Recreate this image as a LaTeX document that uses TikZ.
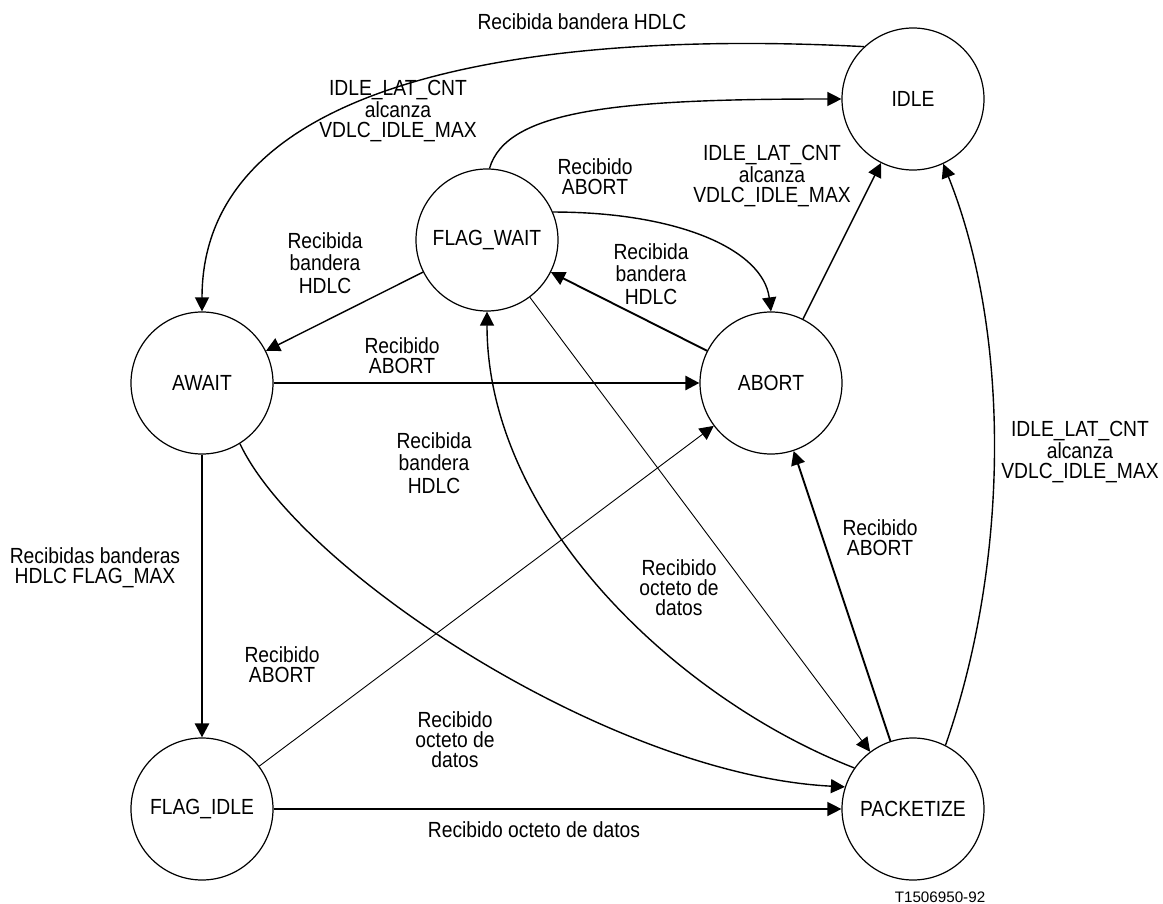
\documentclass[tikz,border=0pt]{standalone}
\usepackage{fontspec}
\setmainfont{Liberation Sans}[FakeStretch=0.88]
\newfontfamily\codefont{Liberation Sans}
\usetikzlibrary{arrows.meta}

\begin{document}
\begin{tikzpicture}[x=0.5pt, y=-0.5pt,
  state/.style={draw, circle, line width=0.6pt, minimum size=71pt, inner sep=0pt,
    font=\fontsize{10.95pt}{12pt}\selectfont},
  lbl/.style={align=center, inner sep=0pt, font=\fontsize{10.95pt}{10pt}\selectfont},
  lblwide/.style={align=center, inner sep=0pt, font=\fontsize{10.95pt}{11.25pt}\selectfont},
  tr/.style={-{Triangle[length=7pt,width=7pt]}},
  thinline/.style={tr, line width=0.45pt},
  midline/.style={tr, line width=0.7pt},
  boldline/.style={tr, line width=0.95pt},
  heavyline/.style={tr, line width=1.3pt},
]
\fill[white] (0,0) rectangle (1163,904);
\useasboundingbox (0,0) rectangle (1163,904);

% states
\node[state] (IDLE)      at (913,99)  {IDLE};
\node[state] (FLAGWAIT)  at (487,240) {FLAG\_WAIT};
\node[state] (AWAIT)     at (202,383) {AWAIT};
\node[state] (ABORT)     at (771,383) {ABORT};
\node[state] (FLAGIDLE)  at (202,809) {FLAG\_IDLE};
\node[state] (PACKETIZE) at (913,809) {PACKETIZE};

% transitions
\draw[midline] (IDLE.133) .. controls +(-306,-16) and +(0,-242) .. (AWAIT.north);
\draw[midline] (FLAGWAIT.88) .. controls +(17,-59) and +(-222,0) .. (IDLE.west);
\draw[midline] (FLAGWAIT.23) .. controls +(125,0) and +(-8,-62) .. (ABORT.north);
\draw[boldline] (ABORT) -- (FLAGWAIT);
\draw[midline] (ABORT) -- (IDLE);
\draw[midline] (FLAGWAIT) -- (AWAIT);
\draw[heavyline] (AWAIT) -- (ABORT);
\draw[heavyline] (AWAIT) -- (FLAGIDLE);
\draw[midline] (FLAGIDLE) -- (PACKETIZE);
\draw[thinline] (FLAGIDLE) -- (ABORT);
\draw[thinline] (FLAGWAIT) -- (PACKETIZE);
\draw[boldline] (PACKETIZE) -- (ABORT);
\draw[midline] (PACKETIZE.63) .. controls +(65,-186) and +(67,167) .. (IDLE.-65);
\draw[midline] (PACKETIZE.145) .. controls +(-175,-68) and +(0,209) .. (FLAGWAIT.south);
\draw[midline] (AWAIT.-58) .. controls +(60,127) and +(-235,-12) .. (PACKETIZE.162);

% transition labels
\node[lbl] (l1) at (582,22) {Recibida bandera HDLC};
\node[lbl] (l2) at (398,111) {IDLE\_LAT\_CNT\\alcanza\\VDLC\_IDLE\_MAX};
\node[lbl] (l3) at (595,177) {Recibido\\ABORT};
\node[lbl] (l4) at (772,176) {IDLE\_LAT\_CNT\\alcanza\\VDLC\_IDLE\_MAX};
\node[lblwide] (l5) at (325,263) {Recibida\\bandera\\HDLC};
\node[lblwide] (l6) at (651,274) {Recibida\\bandera\\HDLC};
\node[lbl] (l7) at (402,356) {Recibido\\ABORT};
\node[lblwide] (l8) at (434,463) {Recibida\\bandera\\HDLC};
\node[lbl] (l9) at (1080,452) {IDLE\_LAT\_CNT\\alcanza\\VDLC\_IDLE\_MAX};
\node[lbl] (l10) at (95,568) {Recibidas banderas\\HDLC FLAG\_MAX};
\node[lbl] (l11) at (880,538) {Recibido\\ABORT};
\node[lbl] (l12) at (679,588) {Recibido\\octeto de\\datos};
\node[lbl] (l13) at (282,665) {Recibido\\ABORT};
\node[lbl] (l14) at (455,740) {Recibido\\octeto de\\datos};
\node[lbl] (l15) at (534,830) {Recibido octeto de datos};

\node[inner sep=0pt, font=\codefont\fontsize{7.6pt}{9pt}\selectfont] (ref) at (940,897) {T1506950-92};
\end{tikzpicture}
\end{document}
